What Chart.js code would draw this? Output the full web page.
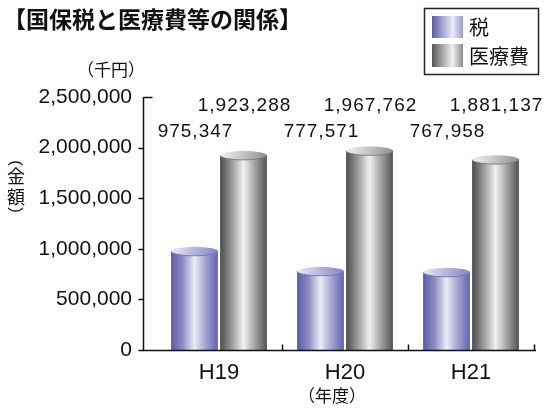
<!DOCTYPE html>
<html lang="ja">

<head>
    <meta charset="UTF-8">
    <title>国保税と医療費等の関係</title>
    <script src="https://cdn.jsdelivr.net/npm/chart.js"></script>
    <style>
        body { margin: 0; background: #fff; }
        #wrap { width: 547px; height: 412px; }
    </style>
</head>

<body>
    <div id="wrap"><canvas id="myChart1" width="547" height="412"></canvas></div>
</body>
<script>
    // data
    const years = ["H19", "H20", "H21"];
    const tax = [975347, 777571, 767958];
    const medical = [1923288, 1967762, 1881137];
    const yMax = 2500000;
    const yStep = 500000;

    const jp = '"Noto Sans CJK JP", sans-serif';
    const num = '"Liberation Sans", Arial, sans-serif';

    // gradient stops for the cylinders (left -> right)
    const blueBody = ["#5a5aa5", "#8e8ec5", "#ebebf6", "#a0a0cf", "#6363ad"];
    const blueTop = ["#ececf7", "#b4b4dc", "#8484c0"];
    const grayBody = ["#4c4c4c", "#9a9a9a", "#f1f1f1", "#a0a0a0", "#525252"];
    const grayTop = ["#f2f2f2", "#c4c4c4", "#8c8c8c"];

    function grad(ctx, x0, y0, x1, y1, stops) {
        const g = ctx.createLinearGradient(x0, y0, x1, y1);
        stops.forEach((c, i) => g.addColorStop(i / (stops.length - 1), c));
        return g;
    }

    function cylinder(ctx, bar, body, top, rim) {
        const p = bar.getProps(["x", "y", "base", "width"], true);
        const l = p.x - p.width / 2, r = p.x + p.width / 2, ry = 4.5;
        ctx.fillStyle = grad(ctx, l, 0, r, 0, body);
        ctx.fillRect(l, p.y, p.width, p.base - p.y);
        ctx.beginPath();
        ctx.ellipse(p.x, p.y, p.width / 2, ry, 0, 0, Math.PI * 2);
        ctx.fillStyle = grad(ctx, l, p.y - ry, r, p.y + ry, top);
        ctx.fill();
        ctx.beginPath();
        ctx.ellipse(p.x, p.y, p.width / 2, ry, 0, 0, Math.PI);
        ctx.strokeStyle = rim;
        ctx.lineWidth = 0.8;
        ctx.stroke();
    }

    const decor = {
        id: "decor",
        afterDatasetsDraw(chart) {
            const ctx = chart.ctx;
            const area = chart.chartArea;
            const xs = chart.scales.x, ys = chart.scales.y;
            ctx.save();

            // cylinders
            chart.getDatasetMeta(0).data.forEach((b) => cylinder(ctx, b, blueBody, blueTop, "#6a6ab0"));
            chart.getDatasetMeta(1).data.forEach((b) => cylinder(ctx, b, grayBody, grayTop, "#707070"));

            // axes
            const axisX = area.left - 12.5;
            const bottom = Math.round(area.bottom) + 0.5;
            ctx.strokeStyle = "#111";
            ctx.lineWidth = 1.5;
            ctx.beginPath();
            ctx.moveTo(axisX, ys.getPixelForValue(yMax));
            ctx.lineTo(axisX, bottom);
            ctx.lineTo(area.right + 2, bottom);
            ctx.stroke();
            // y ticks
            ctx.beginPath();
            for (let v = 0; v < yMax; v += yStep) {
                const py = Math.round(ys.getPixelForValue(v)) + 0.5;
                ctx.moveTo(axisX - 5, py);
                ctx.lineTo(axisX, py);
            }
            const pTop = Math.round(ys.getPixelForValue(yMax)) + 0.5;
            ctx.moveTo(axisX, pTop);
            ctx.lineTo(axisX + 9, pTop);
            // x ticks (category boundaries, pointing up)
            const half = (xs.getPixelForValue(1) - xs.getPixelForValue(0)) / 2;
            for (let i = 0; i < years.length; i++) {
                const px = Math.round(xs.getPixelForValue(i) + half) + 0.5;
                ctx.moveTo(px, bottom);
                ctx.lineTo(px, bottom - 6);
            }
            ctx.stroke();

            // value labels
            ctx.fillStyle = "#111";
            ctx.font = "19px " + num;
            ctx.textAlign = "center";
            ctx.textBaseline = "middle";
            ctx.letterSpacing = "1px";
            chart.getDatasetMeta(1).data.forEach((b, i) => {
                ctx.fillText(medical[i].toLocaleString("en-US"), b.x + 1, area.top + 9);
            });
            chart.getDatasetMeta(0).data.forEach((b, i) => {
                ctx.fillText(tax[i].toLocaleString("en-US"), b.x + 1, area.top + 35);
            });
            ctx.letterSpacing = "0px";

            // title
            ctx.textAlign = "left";
            ctx.font = "bold 23px " + jp;
            ctx.fillText("【国保税と医療費等の関係】", 3, 19);

            // legend
            ctx.lineWidth = 1.5;
            ctx.strokeStyle = "#222";
            ctx.strokeRect(424.5, 8.5, 114, 66);
            ctx.fillStyle = grad(ctx, 432, 0, 463, 0, ["#5a5aa5", "#a4a4d2", "#ebebf6", "#9a9acb"]);
            ctx.fillRect(432, 16, 31, 22);
            ctx.fillStyle = grad(ctx, 432, 0, 463, 0, ["#555", "#a8a8a8", "#f0f0f0", "#8a8a8a"]);
            ctx.fillRect(432, 44, 31, 23);
            ctx.fillStyle = "#111";
            ctx.font = "20px " + jp;
            ctx.fillText("税", 469, 27);
            ctx.fillText("医療費", 469, 56);

            // unit and axis titles
            ctx.font = "17px " + jp;
            ctx.textAlign = "center";
            ctx.fillText("（千円）", 111, 70);
            ctx.fillText("（年度）", 332, 396);

            // vertical (金額)
            ctx.font = "18px " + jp;
            ctx.fillText("金", 16, 176);
            ctx.fillText("額", 16, 197);
            ctx.font = "17px " + num;
            [[163, 1], [210, -1]].forEach(([py, dir]) => {
                ctx.save();
                ctx.translate(16, py);
                ctx.rotate(Math.PI / 2);
                ctx.fillText(dir > 0 ? "(" : ")", 0, 0);
                ctx.restore();
            });

            ctx.restore();
        }
    };

    const ctx = document.getElementById("myChart1");
    new Chart(ctx, {
        type: "bar",
        data: {
            labels: years,
            datasets: [
                { label: "税", data: tax, backgroundColor: "rgba(0,0,0,0)" },
                { label: "医療費", data: medical, backgroundColor: "rgba(0,0,0,0)" },
            ],
        },
        options: {
            responsive: false,
            animation: false,
            events: [],
            layout: { padding: { top: 97, right: 13, left: 0, bottom: 0 } },
            datasets: { bar: { categoryPercentage: 0.778, barPercentage: 0.955 } },
            plugins: { legend: { display: false }, tooltip: { enabled: false } },
            scales: {
                x: {
                    grid: { display: false, drawTicks: false },
                    border: { display: false },
                    ticks: { color: "#111", font: { family: num, size: 22 }, padding: 10 },
                    afterFit: (s) => { s.height = 62; },
                },
                y: {
                    min: 0,
                    max: yMax,
                    grid: { display: false, drawTicks: false },
                    border: { display: false },
                    ticks: {
                        stepSize: yStep,
                        color: "#111",
                        font: { family: num, size: 21 },
                        padding: 24,
                        callback: (v) => v.toLocaleString("en-US"),
                    },
                    afterFit: (s) => { s.width = 156; },
                },
            },
        },
        plugins: [decor],
    });
</script>

</html>
